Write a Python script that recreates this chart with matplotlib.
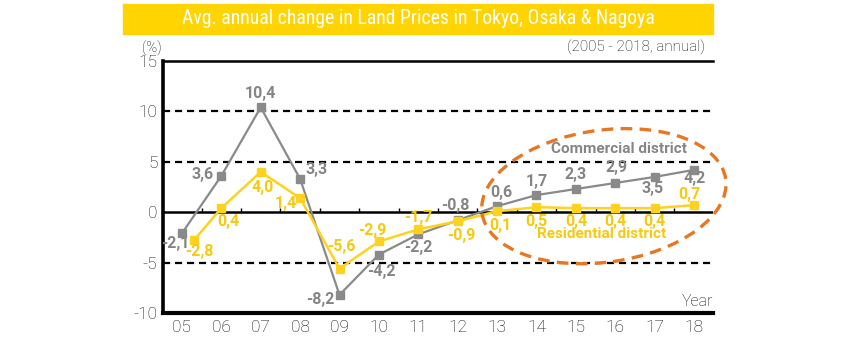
import matplotlib
matplotlib.use("Agg")
import matplotlib.pyplot as plt
import matplotlib.transforms as mtransforms
from matplotlib.patches import Ellipse, Rectangle

plt.rcParams['font.family'] = ['Roboto', 'DejaVu Sans']
plt.rcParams['axes.unicode_minus'] = False

# annual change (%), 2005 - 2018
years = [5, 6, 7, 8, 9, 10, 11, 12, 13, 14, 15, 16, 17, 18]
year_labels = ["05", "06", "07", "08", "09", "10", "11", "12", "13", "14", "15", "16", "17", "18"]
commercial = [-2.1, 3.6, 10.4, 3.3, -8.2, -4.2, -2.2, -0.8, 0.6, 1.7, 2.3, 2.9, 3.5, 4.2]
residential_x = [5.3, 6, 7, 8, 9, 10, 11, 12, 13, 14, 15, 16, 17, 18]
residential = [-2.8, 0.4, 4.0, 1.4, -5.6, -2.9, -1.7, -0.9, 0.1, 0.5, 0.4, 0.4, 0.4, 0.7]

# label offsets in pixels (dx, dy)
com_off = [(-7, -10), (-19, 1), (0, 14), (16, 9), (-19, -5), (2, -17), (0, -13),
           (-2, 15), (4, 14), (0, 14), (0, 15), (1, 15), (-2, -12), (1, -9)]
res_off = [(6, -11), (7, -13), (2, -16), (-14, -5), (2, 22), (-7, 11), (0, 12),
           (4, -14), (3, -14), (0, -14), (0, -13), (0, -13), (0, -13), (-5, 11)]

GRAY = "#8a8a8a"
GRAY_TXT = "#858585"
YELLOW = "#ffd21f"
YELLOW_TXT = "#f7c90f"
BANNER = "#ffd400"
ORANGE = "#e87722"
INK = "#111111"

fig = plt.figure(figsize=(8.5, 3.4), dpi=100)
ax = fig.add_axes([163 / 850, 1 - 313 / 340, 550 / 850, 252 / 340])

# title banner
fig.patches.append(Rectangle((123 / 850, 1 - 34 / 340), 590 / 850, 30 / 340,
                             transform=fig.transFigure, color=BANNER, zorder=0))
fig.text(418 / 850, 1 - 19 / 340, "Avg. annual change in Land Prices in Tokyo, Osaka & Nagoya",
         ha="center", va="center", color="white", fontsize=14.2, fontweight="normal",
         family=['Roboto Condensed', 'Liberation Sans Narrow', 'Roboto'])

ax.set_xlim(4.52, 18.48)
ax.set_ylim(-10, 15)

for v in [10, 5, -5]:
    ax.axhline(v, color="black", lw=1.6, ls=(0, (3.2, 2.2)), zorder=1)
ax.axhline(0, color="black", lw=1.8, zorder=1)
ax.vlines([y + 0.5 for y in years[:-1]], 0, 0.45, color="black", lw=1.0, zorder=1)

ax.spines["right"].set_visible(False)
ax.spines["left"].set_linewidth(2.6)
ax.spines["bottom"].set_linewidth(3.0)
ax.spines["top"].set_linewidth(1.8)

ax.plot(years, commercial, color=GRAY, lw=1.6, marker="s", ms=6, zorder=3)
ax.plot(residential_x, residential, color=YELLOW, lw=1.8, marker="s", ms=6, zorder=4)

def fmt(v):
    return f"{v:.1f}".replace(".", ",")

for x, v, (dx, dy) in zip(years, commercial, com_off):
    ax.annotate(fmt(v), (x, v), xytext=(dx, dy), textcoords="offset pixels",
                ha="center", va="center", color=GRAY_TXT, fontsize=11.5,
                fontweight="bold", zorder=5)
for x, v, (dx, dy) in zip(residential_x, residential, res_off):
    ax.annotate(fmt(v), (x, v), xytext=(dx, dy), textcoords="offset pixels",
                ha="center", va="center", color=YELLOW_TXT, fontsize=11.5,
                fontweight="bold", zorder=5)

ax.text(16.1, 6.25, "Commercial district", color=GRAY_TXT, fontsize=11,
        fontweight="bold", ha="center", va="center", zorder=5)
ax.text(15.66, -2.18, "Residential district", color=YELLOW_TXT, fontsize=11,
        fontweight="bold", ha="center", va="center", zorder=5)

# dashed ring around the recent years, sized in inches
ring_tr = fig.dpi_scale_trans + mtransforms.ScaledTranslation(15.71, 1.59, ax.transData)
ax.add_patch(Ellipse((0, 0), 2.46, 1.32, angle=8, transform=ring_tr, fill=False,
                     ec=ORANGE, lw=2.4, ls=(0, (3.5, 2.2)), clip_on=False, zorder=6))

ax.set_xticks(years)
ax.set_xticklabels(year_labels)
ax.set_yticks([15, 10, 5, 0, -5, -10])
ax.set_yticklabels(["15", "10", "5", "0", "-5", "-10"])
ax.tick_params(axis="both", length=0, labelsize=12.5, labelcolor=INK)
ax.tick_params(axis="x", pad=5)
ax.tick_params(axis="y", pad=4)
for lab in ax.get_xticklabels() + ax.get_yticklabels():
    lab.set_fontweight("light")

ax.text(1.0, 12 / 252, "Year", transform=ax.transAxes, ha="right", va="center",
        fontsize=11.5, fontweight="light", color=INK)
fig.text(152 / 850, 1 - 48 / 340, "(%)", ha="center", va="center", fontsize=10.5,
         fontweight="light", color=INK)
fig.text(705 / 850, 1 - 47 / 340, "(2005 - 2018, annual)", ha="right", va="center",
         fontsize=11, fontweight="light", color=INK)

fig.savefig("out.png", dpi=100)
